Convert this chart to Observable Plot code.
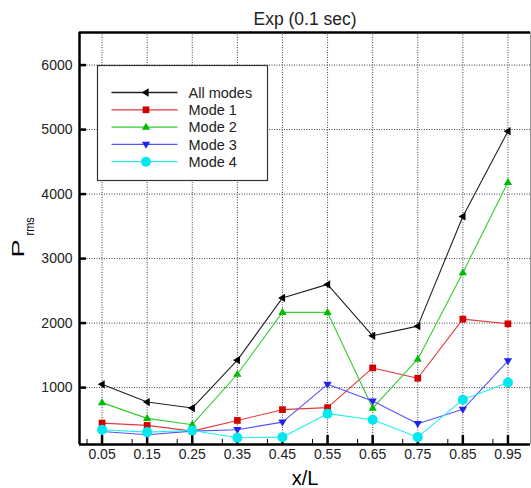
<!DOCTYPE html>
<html><head><meta charset="utf-8">
<script src="https://cdn.jsdelivr.net/npm/d3@7"></script>
<script src="https://cdn.jsdelivr.net/npm/@observablehq/plot@0.6"></script>
<style>
body{margin:0;background:#fff;}
#chart{position:relative;width:531px;height:488px;}
svg text{font-family:"Liberation Sans",Arial,sans-serif;}
</style>
</head><body><div id="chart"></div>
<script>
// ---- data ----
const xPositions = [0.05, 0.15, 0.25, 0.35, 0.45, 0.55, 0.65, 0.75, 0.85, 0.95];
const allModes = [1051, 776, 683, 1425, 2390, 2600, 1803, 1953, 3653, 4975];
const mode1 = [450, 414, 325, 491, 658, 689, 1305, 1145, 2062, 1989];
const mode2 = [767, 523, 425, 1207, 2166, 2166, 683, 1440, 2782, 4182];
const mode3 = [320, 268, 325, 347, 465, 1051, 792, 440, 663, 1414];
const mode4 = [347, 310, 336, 222, 232, 596, 502, 232, 813, 1078];
const seriesNames = ["All modes", "Mode 1", "Mode 2", "Mode 3", "Mode 4"];
const xTickLabels = ["0.05", "0.15", "0.25", "0.35", "0.45", "0.55", "0.65", "0.75", "0.85", "0.95"];
const yTicks = [1000, 2000, 3000, 4000, 5000, 6000];
const xDomain = [0, 1];
const yDomain = [118, 6505];
const titleText = "Exp (0.1 sec)";
const xLabel = "x/L";
const yLabelMain = "P";
const yLabelSub = "rms";

// ---- styles ----
const W = 531, H = 488, mL = 79, mR = 1, mT = 32, mB = 44;
const frameW = W - mL - mR, frameH = H - mT - mB;
function tri(angle) {
  return {draw(ctx, size) {
    const r = Math.sqrt(size / Math.PI) * 1.15;
    const pts = [[r, 0], [-r * 0.6, -r * 0.95], [-r * 0.6, r * 0.95]];
    const c = Math.cos(angle), s = Math.sin(angle);
    pts.forEach(([x, y], i) => {
      const X = x * c - y * s, Y = x * s + y * c;
      i ? ctx.lineTo(X, Y) : ctx.moveTo(X, Y);
    });
    ctx.closePath();
  }};
}
const styles = {
  "All modes": {line: "#222", fill: "#000", symbol: tri(Math.PI), r: 3.8},
  "Mode 1": {line: "#e23a3a", fill: "#d40000", symbol: "square", r: 3.8},
  "Mode 2": {line: "#33cc33", fill: "#00bb00", symbol: tri(-Math.PI / 2), r: 3.8},
  "Mode 3": {line: "#5555ff", fill: "#2222ee", symbol: tri(Math.PI / 2), r: 3.8},
  "Mode 4": {line: "#22eeee", fill: "#00e8f0", symbol: "circle", r: 5}
};
const seriesValues = [allModes, mode1, mode2, mode3, mode4];
const data = seriesNames.map((name, i) => xPositions.map((x, j) => ({series: name, x, y: seriesValues[i][j]})));

const xMinor = d3.range(-1, 29).map(k => 0.05 + k / 30).filter((v, i) => (i + 1) % 3 !== 0 && v > 0 && v < 1);

const marks = [
  Plot.gridX(xPositions, {stroke: "#000", strokeOpacity: 0.75, strokeDasharray: "1,1.5"}),
  Plot.gridY(yTicks, {stroke: "#000", strokeOpacity: 0.75, strokeDasharray: "1,1.5"}),
  Plot.axisX(xPositions, {tickSize: 0, tickPadding: 5, label: null, tickFormat: (d, i) => xTickLabels[i], fontSize: 14, fill: "#222"}),
  Plot.axisY(yTicks, {tickSize: 0, tickPadding: 7, label: null, tickFormat: d3.format("d"), fontSize: 14, fill: "#222"}),
  Plot.tickX(xMinor, {x: d => d, insetTop: frameH - 5, stroke: "#000", strokeWidth: 1}),
  Plot.tickX(xPositions, {x: d => d, insetTop: frameH - 9, stroke: "#000", strokeWidth: 2.5}),
  Plot.tickY(yTicks, {y: d => d, insetRight: frameW - 7, stroke: "#000", strokeWidth: 2.5}),
  Plot.ruleX([xDomain[1]], {stroke: "#999", strokeWidth: 1}),
  Plot.ruleX([xDomain[0]], {stroke: "#000", strokeWidth: 2.5}),
  Plot.ruleY([yDomain[0]], {stroke: "#000", strokeWidth: 2.5}),
  Plot.ruleY([yDomain[1]], {stroke: "#000", strokeWidth: 2.5})
];
data.forEach(ser => {
  const st = styles[ser[0].series];
  marks.push(Plot.line(ser, {x: "x", y: "y", stroke: st.line, strokeWidth: 1.1}));
  marks.push(Plot.dot(ser, {x: "x", y: "y", symbol: st.symbol, r: st.r, fill: st.fill, stroke: "none"}));
});
marks.push(Plot.text([titleText], {frameAnchor: "top", lineAnchor: "middle", dy: -13, fontSize: 17.5, fill: "#222"}));
marks.push(Plot.text([xLabel], {frameAnchor: "bottom", lineAnchor: "middle", dy: 34, fontSize: 20, fill: "#000"}));

const chart = Plot.plot({
  width: W, height: H,
  marginLeft: mL, marginRight: mR, marginTop: mT, marginBottom: mB,
  x: {domain: xDomain, label: null},
  y: {domain: yDomain, label: null},
  style: {fontFamily: "Liberation Sans, Arial, sans-serif", background: "#fff"},
  marks
});
document.getElementById("chart").appendChild(chart);

// y label with subscript
const svg = d3.select(chart);
svg.append("text")
  .attr("transform", "translate(23.5,257.5) rotate(-90) scale(1.6,1)")
  .attr("text-anchor", "start")
  .style("font-size", "17px").attr("fill", "#000").text(yLabelMain);
svg.append("text")
  .attr("transform", "translate(33.5,235.5) rotate(-90) scale(0.85,1)")
  .attr("text-anchor", "start")
  .style("font-size", "13px").attr("fill", "#000").text(yLabelSub);

// legend
const lg = svg.append("g").attr("transform", "translate(97.5,65.5)");
lg.append("rect").attr("width", 170).attr("height", 115).attr("fill", "#fff").attr("stroke", "#333").attr("stroke-width", 1.2);
seriesNames.forEach((name, i) => {
  const st = styles[name];
  const y = 27 + i * 17.3;
  lg.append("line").attr("x1", 14).attr("x2", 80).attr("y1", y).attr("y2", y).attr("stroke", st.line).attr("stroke-width", 1.3);
  const sym = typeof st.symbol === "string" ? (st.symbol === "square" ? d3.symbolSquare : d3.symbolCircle) : st.symbol;
  lg.append("path").attr("transform", `translate(48.5,${y})`)
    .attr("d", d3.symbol(sym, st.r * st.r * Math.PI)()).attr("fill", st.fill);
  lg.append("text").attr("x", 91).attr("y", y).attr("dy", "0.36em").attr("text-anchor", "start")
    .style("font-size", "14.5px").attr("fill", "#222").text(name);
});
</script>
</body></html>
